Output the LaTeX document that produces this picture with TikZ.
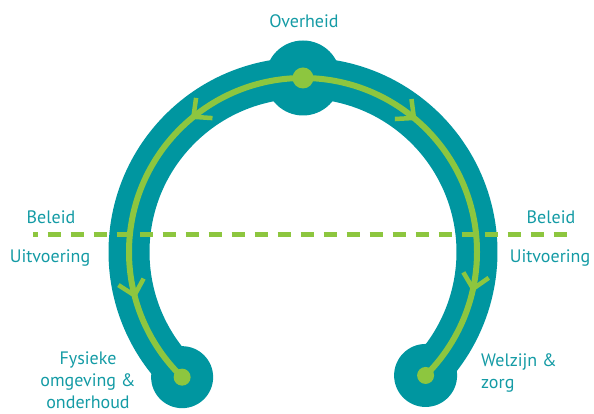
\documentclass[tikz,border=0pt]{standalone}
\usepackage{fontspec}
\setmainfont{PT Sans}
\usetikzlibrary{decorations.markings}
\definecolor{tealband}{RGB}{0,150,160}
\definecolor{tealtxt}{RGB}{20,155,165}
\definecolor{lgreen}{RGB}{141,198,63}
\newcommand{\chevronshape}{\draw[lgreen, line width=4.5pt, line join=round, line cap=butt] (-14pt,13pt) -- (0pt,0pt) -- (-14pt,-13pt);}
\tikzset{
  hubc/.style={circle, fill=tealband, inner sep=0pt, minimum size=#1},
  gdot/.style={circle, fill=lgreen, inner sep=0pt, minimum size=#1},
  lbl/.style={text=tealtxt, font=\fontsize{18}{22}\selectfont, inner sep=0pt},
  band/.style={draw=tealband, line width=41pt},
  flow/.style={draw=lgreen, line width=6pt},
  twochev/.style 2 args={postaction={decorate}, decoration={markings,
      mark=at position #1 with {\chevronshape},
      mark=at position #2 with {\chevronshape}}},
}
\begin{document}
\begin{tikzpicture}[x=1pt,y=1pt]
\useasboundingbox (0,0) rectangle (594,414);
\coordinate (c) at (303,162);
% teal band
\path[band] ([shift={(226:174pt)}]c) arc[start angle=226, end angle=-45.2, radius=174pt];
\node[hubc=75pt] (hubtop) at ([shift={(90:174pt)}]c) {};
\node[hubc=62pt] (hubleft) at ([shift={(226:174pt)}]c) {};
\node[hubc=63pt] (hubright) at ([shift={(-45.2:174pt)}]c) {};
% dashed divider
\coordinate (dl) at (33,179);
\coordinate (dr) at (572,179);
\draw[lgreen, line width=5pt, dash pattern=on 13.5pt off 9.5pt, dash phase=8.5pt] (dl) -- (dr);
% green flow lines
\path[flow, twochev={0.287}{0.768}] (hubtop.center) arc[start angle=90, end angle=226, radius=174pt];
\path[flow, twochev={0.293}{0.756}] (hubtop.center) arc[start angle=90, end angle=-45.2, radius=174pt];
\node[gdot=21pt] (dtop) at (hubtop) {};
\node[gdot=17pt] (dleft) at (hubleft) {};
\node[gdot=17pt] (dright) at (hubright) {};
% labels
\node[lbl, anchor=base] (overheid) at (304,386) {Overheid};
\node[lbl, anchor=base] (beleidl) at (51,190) {Beleid};
\node[lbl, anchor=base] (uitvl) at (50,151.5) {Uitvoering};
\node[lbl, anchor=base] (beleidr) at (551,190) {Beleid};
\node[lbl, anchor=base] (uitvr) at (550,151.5) {Uitvoering};
\node[lbl, anchor=base, align=center] (fysiek) at (88,5) {Fysieke\\omgeving \&\\onderhoud};
\node[lbl, anchor=base west, align=left] (welzijn) at (481,25) {Welzijn \&\\zorg};
\end{tikzpicture}
\end{document}
